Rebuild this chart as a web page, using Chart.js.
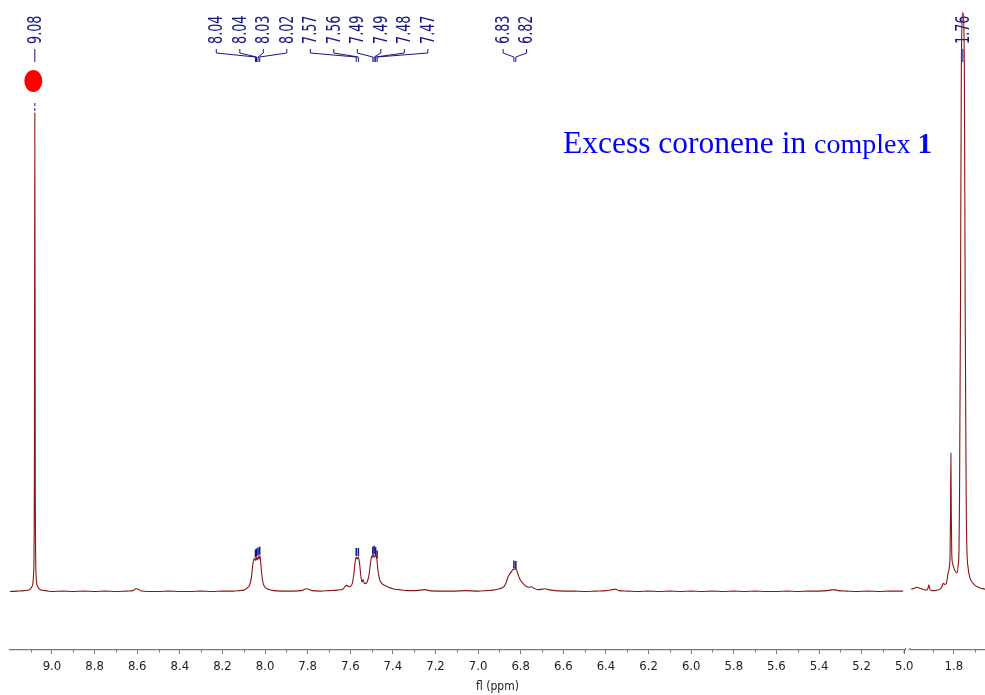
<!DOCTYPE html>
<html><head><meta charset="utf-8">
<script src="https://cdn.jsdelivr.net/npm/chart.js@4.4.1/dist/chart.umd.min.js"></script>
<style>html,body{margin:0;padding:0;background:#fff;overflow:hidden}canvas{display:block}</style>
</head><body>
<canvas id="c" width="985" height="695"></canvas>
<script>
// ---------- DATA ----------
const leftPpm = [9.197,9.16,9.13,9.105,9.093,9.086,9.0825,9.0805,9.0785,9.075,9.068,9.055,9.03,9.0,8.95,8.9,8.85,8.8,8.75,8.7,8.65,8.62,8.605,8.595,8.58,8.55,8.5,8.45,8.4,8.35,8.3,8.25,8.2,8.15,8.12,8.10,8.085,8.072,8.064,8.058,8.053,8.048,8.044,8.040,8.036,8.032,8.028,8.024,8.020,8.015,8.010,8.000,7.985,7.96,7.92,7.87,7.83,7.805,7.795,7.78,7.74,7.7,7.66,7.635,7.618,7.605,7.592,7.584,7.578,7.572,7.567,7.562,7.556,7.550,7.545,7.540,7.534,7.527,7.520,7.512,7.505,7.498,7.494,7.490,7.485,7.480,7.475,7.470,7.462,7.452,7.44,7.42,7.40,7.37,7.33,7.29,7.25,7.23,7.18,7.12,7.06,7.0,6.96,6.93,6.90,6.88,6.87,6.86,6.848,6.836,6.828,6.820,6.812,6.806,6.797,6.787,6.775,6.762,6.750,6.738,6.720,6.700,6.685,6.67,6.64,6.6,6.55,6.5,6.45,6.40,6.37,6.355,6.34,6.3,6.25,6.2,6.15,6.1,6.05,6.0,5.95,5.9,5.85,5.8,5.75,5.7,5.65,5.6,5.55,5.5,5.45,5.4,5.36,5.33,5.31,5.27,5.22,5.17,5.12,5.07,5.03,5.005];
const leftInt = [0.1,0.2,0.3,0.5,1.2,4,25,100,25,4,1.2,0.5,0.3,0.1,0.2,0.1,0.2,0.1,0.2,0.1,0.2,0.3,0.7,0.6,0.2,0.1,0.1,0.2,0.1,0.1,0.2,0.1,0.2,0.2,0.3,0.4,0.8,1.5,3.0,5.5,6.8,7.0,6.6,7.2,6.7,7.4,6.9,7.6,6.0,3.5,2.0,1.0,0.6,0.3,0.2,0.2,0.3,0.7,0.6,0.3,0.2,0.3,0.4,0.6,1.4,1.1,1.6,3.5,6.0,7.3,6.9,7.3,5.8,3.2,2.1,2.6,1.8,1.8,2.2,3.6,6.0,7.6,7.2,7.8,7.3,7.6,6.8,4.5,2.6,1.8,1.4,1.0,0.7,0.5,0.3,0.3,0.5,0.3,0.2,0.2,0.3,0.2,0.3,0.4,0.7,1.1,1.8,3.1,4.0,4.7,4.8,4.6,3.6,2.9,2.2,1.7,1.2,1.0,1.1,0.8,0.5,0.6,0.7,0.5,0.3,0.2,0.2,0.1,0.2,0.3,0.5,0.6,0.3,0.2,0.1,0.2,0.1,0.2,0.1,0.2,0.1,0.2,0.1,0.2,0.1,0.2,0.1,0.1,0.2,0.1,0.2,0.2,0.3,0.5,0.3,0.2,0.1,0.2,0.1,0.2,0.2,0.2];
const rightPpm = [2.000,1.985,1.975,1.960,1.945,1.928,1.921,1.917,1.913,1.905,1.890,1.880,1.865,1.855,1.850,1.843,1.837,1.832,1.827,1.822,1.818,1.8158,1.814,1.8122,1.810,1.806,1.800,1.793,1.786,1.780,1.776,1.7735,1.772,1.769,1.765,1.758,1.751,1.747,1.744,1.742,1.739,1.733,1.725,1.715,1.703,1.69,1.675,1.654];
const rightInt = [0.6,0.8,1.0,0.8,0.6,0.4,0.9,1.5,0.6,0.3,0.3,0.4,0.6,1.2,1.8,1.6,1.7,2.6,4.0,5.0,8,16,29,16,8,6.0,5.0,4.3,4.0,5.5,9,20,34,60,110,121,110,60,34,18,9,5,3.0,2.1,1.5,1.1,0.8,0.6];

const tickPpm = [9.0,8.8,8.6,8.4,8.2,8.0,7.8,7.6,7.4,7.2,7.0,6.8,6.6,6.4,6.2,6.0,5.8,5.6,5.4,5.2,5.0,1.8];
const minorTickPpm = [9.1,8.9,8.7,8.5,8.3,8.1,7.9,7.7,7.5,7.3,7.1,6.9,6.7,6.5,6.3,6.1,5.9,5.7,5.5,5.3,5.1,1.9,1.7];

const peakLabels = ['9.08','8.04','8.04','8.03','8.02','7.57','7.56','7.49','7.49','7.48','7.47','6.83','6.82','1.76'];
const peakPpm    = [9.0805,8.045,8.040,8.033,8.025,7.572,7.562,7.494,7.488,7.481,7.474,6.832,6.823,1.758];
const peakInt    = [100,7.0,7.2,7.4,7.6,7.3,7.3,7.6,7.8,7.5,6.8,4.7,4.6,121];
const peakGroups = [[0],[1,2,3,4],[5,6,7,8,9,10],[11,12],[13]];

const axisTitle = 'fl (ppm)';
const noteParts = ['Excess coronene in ', 'complex ', '1'];

// ---------- AXIS BREAK MAPPING ----------
const BREAK_PPM = 5.0;        // left segment ends here
const BREAK_SHIFT = 2.967;    // right-segment ppm + shift = axis coordinate
function toAxis(p){ return p < 3 ? p + BREAK_SHIFT : p; }

// ---------- STYLE ----------
const LINE_COLOR = '#8b1414';
const NAVY = '#15158a';
const AXIS_COLOR = '#777';
const TICK_FONT = '"Liberation Sans Narrow","DejaVu Sans Condensed","Liberation Sans",sans-serif';

const minorTicks = {
  id:'minorTicks',
  afterDraw(chart){
    const {ctx, scales:{x}, chartArea} = chart;
    const y0 = chartArea.bottom;
    ctx.save();
    ctx.strokeStyle = AXIS_COLOR; ctx.lineWidth = 1;
    minorTickPpm.forEach(p=>{
      const px = Math.round(x.getPixelForValue(toAxis(p))) + 0.5;
      ctx.beginPath(); ctx.moveTo(px, y0); ctx.lineTo(px, y0 + 2.5); ctx.stroke();
    });
    const bl = x.getPixelForValue(BREAK_PPM);
    const br = x.getPixelForValue(toAxis(2.0));
    ctx.fillStyle = '#fff';
    ctx.fillRect(bl + 1, y0 - 2, br - bl - 2, 4);
    ctx.strokeStyle = '#555'; ctx.lineWidth = 1;
    ctx.beginPath(); ctx.moveTo(bl - 0.5, y0 + 3); ctx.lineTo(bl + 1.5, y0 - 2); ctx.stroke();
    ctx.beginPath(); ctx.moveTo(bl + 4, y0 + 0.5); ctx.lineTo(bl + 6.5, y0 - 2); ctx.stroke();
    ctx.restore();
  }
};

const labelsPlugin = {
  id:'peakLabels',
  beforeDatasetsDraw(chart){
    const {ctx, scales:{x, y}} = chart;
    const peakPx = peakPpm.map(p=>x.getPixelForValue(toAxis(p)));
    const SP = 23.5;
    const gp = peakGroups.map(g=>{
      const c = g.reduce((s,i)=>s+peakPx[i],0)/g.length;
      return {g, start: c - (g.length-1)*SP/2};
    });
    for (let k = gp.length-2; k >= 0; k--){
      const a = gp[k], b = gp[k+1];
      const aEnd = a.start + (a.g.length-1)*SP;
      if (aEnd > b.start - SP) a.start -= aEnd - (b.start - SP);
    }
    const labelX = [];
    gp.forEach(o=>o.g.forEach((i,j)=>labelX[i] = o.start + j*SP));

    ctx.save();
    ctx.fillStyle = NAVY; ctx.strokeStyle = NAVY; ctx.lineWidth = 1;
    ctx.font = '20px ' + TICK_FONT;
    const sx = 28.5 / ctx.measureText('8.04').width;
    peakLabels.forEach((t,i)=>{
      ctx.save();
      ctx.translate(labelX[i] + 0.5, 44);
      ctx.rotate(-Math.PI/2);
      ctx.scale(sx, 1);
      ctx.textAlign = 'left'; ctx.textBaseline = 'middle';
      ctx.fillText(t, 0, 0);
      ctx.restore();
      ctx.beginPath();
      ctx.moveTo(labelX[i], 49); ctx.lineTo(labelX[i], 53);
      ctx.lineTo(peakPx[i], 57); ctx.lineTo(peakPx[i], 62);
      ctx.stroke();
      const yt = y.getPixelForValue(peakInt[i]);
      if (i === 0){
        ctx.setLineDash([3,2]);
        ctx.beginPath(); ctx.moveTo(peakPx[i], yt - 10); ctx.lineTo(peakPx[i], yt - 2); ctx.stroke();
        ctx.setLineDash([]);
      } else if (peakInt[i] < 50){
        ctx.lineWidth = 1.5;
        ctx.beginPath(); ctx.moveTo(peakPx[i], yt - 1); ctx.lineTo(peakPx[i], yt - 9); ctx.stroke();
        ctx.lineWidth = 1;
      }
    });
    ctx.fillStyle = '#ff0000';
    ctx.beginPath(); ctx.ellipse(peakPx[0] - 1.5, 81, 9, 11, 0, 0, Math.PI*2); ctx.fill();
    ctx.fillStyle = '#0000ff'; ctx.textBaseline = 'alphabetic'; ctx.textAlign = 'left';
    let tx = 563; const ty = 153;
    const fonts = ['31.5px "Liberation Serif","Times New Roman",serif','28px "Liberation Serif","Times New Roman",serif','bold 29px "Liberation Serif","Times New Roman",serif'];
    noteParts.forEach((s,k)=>{ ctx.font = fonts[k]; ctx.fillText(s, tx, ty); tx += ctx.measureText(s).width; });
    ctx.restore();
  }
};

const mk = (pp, ii) => pp.map((p,i)=>({x: toAxis(p), y: ii[i]}));

new Chart(document.getElementById('c'), {
  type:'line',
  data:{datasets:[
    {data: mk(leftPpm, leftInt), borderColor: LINE_COLOR, borderWidth: 1.1, pointRadius: 0, cubicInterpolationMode: 'monotone', fill: false},
    {data: mk(rightPpm, rightInt), borderColor: LINE_COLOR, borderWidth: 1.1, pointRadius: 0, cubicInterpolationMode: 'monotone', fill: false}
  ]},
  options:{
    responsive:false, animation:false, devicePixelRatio:1,
    layout:{padding:{left:10, right:0, top:0, bottom:0}},
    plugins:{legend:{display:false}, tooltip:{enabled:false}},
    scales:{
      x:{
        type:'linear', reverse:true, min: toAxis(1.654), max: 9.197,
        afterBuildTicks: s => { s.ticks = tickPpm.map(p=>({value: toAxis(p)})); },
        ticks:{autoSkip:false, maxRotation:0, padding:5, color:'#222', font:{family:TICK_FONT, size:13},
               callback:(v,i)=> tickPpm[i].toFixed(1)},
        grid:{drawOnChartArea:false, drawTicks:true, tickLength:4, color:AXIS_COLOR, lineWidth:1},
        border:{display:true, color:AXIS_COLOR, width:1.3},
        title:{display:true, text:axisTitle, color:'#222', font:{family:TICK_FONT, size:12}, padding:{top:0, bottom:1}}
      },
      y:{display:false, min:-12.1, max:123.6}
    }
  },
  plugins:[labelsPlugin, minorTicks]
});
</script>
</body></html>
